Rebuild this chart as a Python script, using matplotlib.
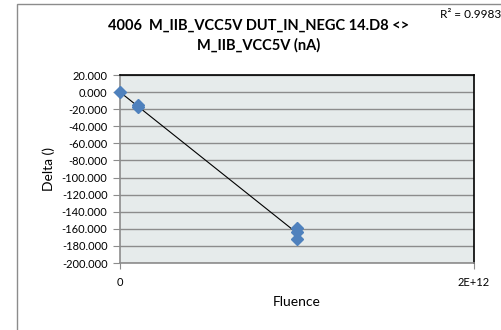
import numpy as np
import matplotlib
matplotlib.use("Agg")
import matplotlib.pyplot as plt
from matplotlib.patches import Rectangle

# Data
fluence = [0.0, 1.0e11, 1.0e11, 1.0e12, 1.0e12, 1.0e12]
delta = [0.0, -15.5, -17.5, -159.0, -164.0, -172.0]
yticks = list(range(20, -201, -20))
xticks = [0, 2e12]
xticklabels = ["0", "2E+12"]
title = "4006  M_IIB_VCC5V DUT_IN_NEGC 14.D8 <>\nM_IIB_VCC5V (nA)"
xlabel = "Fluence"
ylabel = "Delta ()"

plt.rcParams['font.family'] = ['Lato', 'DejaVu Sans']

fig = plt.figure(figsize=(5.01, 3.30), dpi=100)
W, H = 501, 330
ax = fig.add_axes([120 / W, (H - 263) / H, (474 - 120) / W, (263 - 75) / H])

# outer chart frame
fig.patches.append(Rectangle((17 / W, -0.05), 1.2, (H - 4) / H + 0.05,
                             transform=fig.transFigure, fill=False,
                             edgecolor='#8c8c8c', linewidth=1.0))

ax.set_facecolor('#E6EBEB')
ax.set_xlim(0, 2e12)
ax.set_ylim(-200, 20)
ax.set_yticks(yticks)
ax.set_yticklabels([f"{v:.3f}" for v in yticks])
ax.set_xticks(xticks)
ax.set_xticklabels(xticklabels)
ax.yaxis.grid(True, color='#8c8c8c', linewidth=1.0)
ax.set_axisbelow(True)

for s in ['left', 'bottom']:
    ax.spines[s].set_color('#8c8c8c')
    ax.spines[s].set_linewidth(1.2)
for s in ['top', 'right']:
    ax.spines[s].set_color('#000000')
    ax.spines[s].set_linewidth(1.2)

ax.tick_params(axis='y', direction='out', length=5, color='#8c8c8c',
               labelsize=8, pad=4)
ax.tick_params(axis='x', direction='out', length=4, color='#8c8c8c',
               labelsize=8, pad=6)

# trendline
xf = np.array(fluence)
yf = np.array(delta)
m, b = np.polyfit(xf, yf, 1)
xl = np.array([xf.min(), xf.max()])
ax.plot(xl, m * xl + b, color='black', linewidth=0.8, zorder=3)
ax.plot(fluence, delta, linestyle='none', marker='D', markersize=6.5,
        color='#4F81BD', zorder=4, clip_on=False)

ax.set_xlabel(xlabel, fontsize=10, labelpad=6)
ax.set_ylabel(ylabel, fontsize=10, labelpad=5)

fig.text(259 / W, 1 - 35.5 / H, title, ha='center', va='center',
         fontsize=10.5, fontweight='bold', linespacing=1.45)
fig.text(501 / W, 1 - 14 / H, "R² = 0.9983", ha='right', va='center',
         fontsize=8.5)

fig.savefig("out.png", dpi=100)
